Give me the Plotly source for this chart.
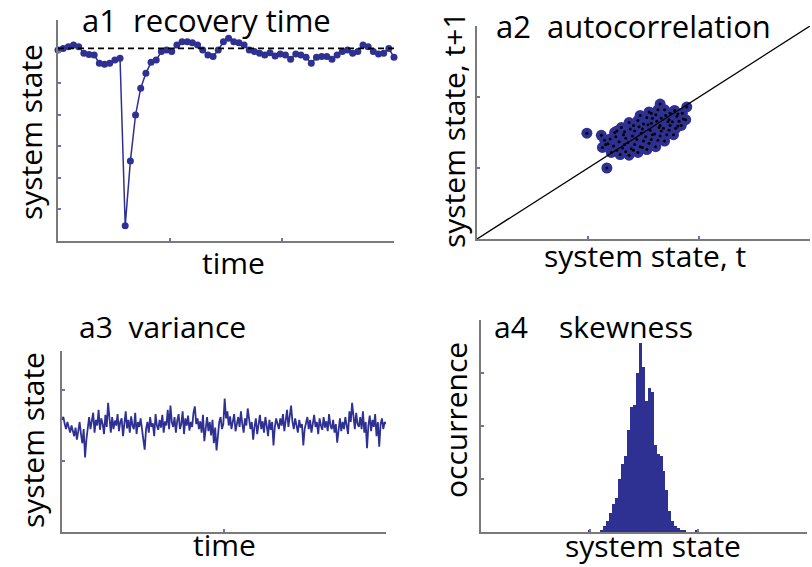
import plotly.graph_objects as go

W, H = 812, 567
BLUE = "#2E3192"
AXC = "#7a7a7a"
TICKC = "#6a6fc0"
FONT = "Open Sans"
FS = 30

# ---------------- data ----------------
# a1: recovery time series (system state vs time step)
recovery_state = [6.05, 6.10, 6.15, 6.21, 6.15, 5.95, 5.91, 5.89, 5.63, 5.60, 5.63, 5.73, 5.79,
                  0.48, 2.53, 3.99, 4.84, 5.31, 5.66, 5.73, 6.00, 6.05, 6.00, 6.21, 6.31, 6.31,
                  6.28, 6.21, 6.05, 5.89, 5.84, 6.05, 6.31, 6.42, 6.31, 6.28, 6.21, 6.05, 6.00,
                  5.95, 5.89, 5.96, 5.86, 5.92, 5.89, 5.76, 5.92, 5.89, 5.82, 5.63, 5.82, 5.84,
                  5.84, 5.76, 5.89, 6.00, 6.05, 5.95, 6.00, 6.21, 6.15, 6.00, 5.92, 5.95, 6.10, 5.82]
recovery_time = list(range(len(recovery_state)))
equilibrium = 6.1

# a2: lag-1 scatter (state at t, state at t+1)
ac_t = [1.13, 1.15, 1.12, 1.21, 1.23, 1.20, 1.24, 1.29, 1.31, 1.28, 1.32, 1.30,
        1.37, 1.39, 1.36, 1.40, 1.38, 1.37, 1.45, 1.47, 1.44, 1.48, 1.46, 1.45, 1.47,
        1.53, 1.55, 1.52, 1.56, 1.54, 1.53, 1.55, 1.61, 1.63, 1.60, 1.64, 1.62, 1.61, 1.63,
        1.69, 1.71, 1.68, 1.72, 1.70, 1.69, 1.77, 1.79, 1.76, 1.80, 1.78, 1.84, 1.86, 1.85,
        1.18, 1.26, 1.34, 1.42, 1.50, 1.58, 1.66, 1.74, 1.82, 1.42, 1.50, 1.58, 1.66, 1.34,
        1.26, 1.74, 1.16, 1.25, 1.33, 1.41, 1.49, 1.57, 1.65, 1.73, 1.81, 1.49, 1.57, 1.65,
        1.73, 1.41, 1.33, 1.57, 1.81, 1.88, 0.99, 1.17, 1.65, 1.89]
ac_t1 = [1.29, 1.39, 1.46, 1.22, 1.31, 1.41, 1.50, 1.19, 1.28, 1.37, 1.47, 1.57,
         1.18, 1.27, 1.36, 1.45, 1.55, 1.64, 1.22, 1.30, 1.40, 1.49, 1.58, 1.67, 1.74,
         1.26, 1.35, 1.44, 1.53, 1.61, 1.71, 1.79, 1.30, 1.39, 1.48, 1.57, 1.66, 1.75, 1.82,
         1.38, 1.47, 1.56, 1.65, 1.74, 1.82, 1.47, 1.56, 1.65, 1.73, 1.81, 1.60, 1.69, 1.77,
         1.34, 1.25, 1.42, 1.33, 1.62, 1.47, 1.52, 1.60, 1.66, 1.52, 1.38, 1.70, 1.70, 1.23,
         1.52, 1.77, 1.33, 1.44, 1.33, 1.25, 1.29, 1.40, 1.45, 1.53, 1.59, 1.55, 1.63, 1.60,
         1.68, 1.60, 1.51, 1.77, 1.76, 1.68, 1.49, 1.00, 1.90, 1.86]
identity_line = [0, 3]

# a3: noisy time series
variance_state = [
    1.58, 1.62, 1.52, 1.45, 1.55, 1.48, 1.40, 1.50, 1.43, 1.35, 1.47, 1.30, 1.42, 1.55, 1.38, 1.25, 1.45, 1.05, 1.30, 1.50,
    1.62, 1.45, 1.55, 1.68, 1.40, 1.58, 1.50, 1.72, 1.44, 1.60, 1.52, 1.38, 1.65, 1.48, 1.82, 1.55, 1.40, 1.62, 1.45, 1.57,
    1.50, 1.66, 1.42, 1.55, 1.60, 1.35, 1.52, 1.70, 1.46, 1.58, 1.40, 1.63, 1.50, 1.45, 1.68, 1.38, 1.55, 1.48, 1.60, 1.42,
    1.30, 1.16, 1.45, 1.55, 1.40, 1.62, 1.48, 1.53, 1.35, 1.66, 1.50, 1.44, 1.58, 1.47, 1.65, 1.40, 1.56, 1.50, 1.72, 1.45,
    1.78, 1.55, 1.48, 1.62, 1.40, 1.57, 1.66, 1.45, 1.52, 1.70, 1.38, 1.60, 1.50, 1.64, 1.43, 1.55, 1.48, 1.68, 1.77, 1.52,
    1.60, 1.45, 1.56, 1.40, 1.65, 1.28, 1.50, 1.62, 1.42, 1.55, 1.36, 1.58, 1.25, 1.47, 1.15, 1.40, 1.55, 1.62, 1.45, 1.52,
    1.88, 1.60, 1.70, 1.50, 1.63, 1.45, 1.58, 1.66, 1.42, 1.55, 1.62, 1.48, 1.70, 1.52, 1.40, 1.60, 1.50, 1.74, 1.58, 1.45,
    1.55, 1.30, 1.48, 1.60, 1.38, 1.52, 1.65, 1.45, 1.56, 1.40, 1.62, 1.50, 1.35, 1.58, 1.44, 1.55, 1.22, 1.48, 1.60, 1.52,
    1.45, 1.60, 1.50, 1.66, 1.42, 1.57, 1.72, 1.48, 1.62, 1.78, 1.55, 1.45, 1.60, 1.50, 1.40, 1.58, 1.47, 1.52, 1.22, 1.45,
    1.55, 1.62, 1.45, 1.58, 1.40, 1.52, 1.65, 1.48, 1.55, 1.38, 1.60, 1.50, 1.44, 1.62, 1.47, 1.56, 1.42, 1.66, 1.50, 1.45,
    1.58, 1.40, 1.52, 1.26, 1.48, 1.60, 1.42, 1.55, 1.45, 1.62, 1.50, 1.38, 1.70, 1.55, 1.82, 1.60, 1.45, 1.68, 1.52, 1.48,
    1.62, 1.45, 1.70, 1.40, 1.55, 1.18, 1.50, 1.64, 1.42, 1.58, 1.48, 1.66, 1.35, 1.55, 1.20, 1.52, 1.60, 1.45, 1.55, 1.52]
variance_time = list(range(len(variance_state)))

# a4: histogram of system state
hist_start = 0.994
hist_width = 0.0276
hist_counts = [1, 0, 0, 0, 1, 3, 5, 9, 13, 16, 25, 32, 36, 48, 59, 60, 75, 89, 78, 62, 68, 66,
               41, 37, 36, 29, 20, 10, 5, 3, 2, 1, 1, 0, 0, 0, 1]
hist_centers = [hist_start + i * hist_width for i in range(len(hist_counts))]

# ---------------- layout helpers ----------------
def xdom(a, b):
    return [a / W, b / W]

def ydom(top, bottom):
    return [1 - bottom / H, 1 - top / H]

def axis(dom, rng, tickvals, anchor):
    return dict(domain=dom, range=rng, tickvals=tickvals, showticklabels=False,
                ticks="inside", ticklen=3, tickwidth=1.5, tickcolor=TICKC,
                showline=True, linecolor=AXC, linewidth=2, showgrid=False,
                zeroline=False, anchor=anchor, fixedrange=True)

fig = go.Figure()

# a1
fig.add_trace(go.Scatter(x=recovery_time, y=recovery_state, mode="lines+markers",
                         line=dict(color=BLUE, width=1.5),
                         marker=dict(color=BLUE, size=7), xaxis="x", yaxis="y",
                         cliponaxis=False, showlegend=False))
fig.add_shape(type="line", xref="x", yref="y", x0=recovery_time[0], x1=recovery_time[-1],
              y0=equilibrium, y1=equilibrium, line=dict(color="black", width=1.6, dash="6px,4px"))

# a2
fig.add_trace(go.Scatter(x=ac_t, y=ac_t1, mode="markers",
                         marker=dict(color=BLUE, size=11, line=dict(width=0)),
                         xaxis="x2", yaxis="y2", showlegend=False))
fig.add_trace(go.Scatter(x=ac_t, y=ac_t1, mode="markers",
                         marker=dict(color="black", size=3),
                         xaxis="x2", yaxis="y2", showlegend=False))
fig.add_trace(go.Scatter(x=identity_line, y=identity_line, mode="lines",
                         line=dict(color="black", width=1.3), xaxis="x2", yaxis="y2",
                         showlegend=False))

# a3
fig.add_trace(go.Scatter(x=variance_time, y=variance_state, mode="lines",
                         line=dict(color=BLUE, width=1.8), xaxis="x3", yaxis="y3",
                         showlegend=False))

# a4
fig.add_trace(go.Bar(x=hist_centers, y=hist_counts, width=hist_width,
                     marker=dict(color=BLUE, line=dict(width=0)),
                     xaxis="x4", yaxis="y4", showlegend=False))

n1 = recovery_time[-1]
n3 = variance_time[-1]
fig.update_layout(
    width=W, height=H, margin=dict(l=0, r=0, t=0, b=0),
    paper_bgcolor="white", plot_bgcolor="white",
    xaxis=axis(xdom(58, 394), [0, n1], [0, n1 / 3, 2 * n1 / 3, n1], "y"),
    yaxis=axis(ydom(20, 241), [0, 7], [0, 1, 2, 3, 4, 5, 6, 7], "x"),
    xaxis2=axis(xdom(477, 810), [0, 3], [0, 1, 2, 3], "y2"),
    yaxis2=axis(ydom(26, 239), [0, 3], [0, 1, 2, 3], "x2"),
    xaxis3=axis(xdom(62, 386), [0, n3], [0, n3 / 2, n3], "y3"),
    yaxis3=axis(ydom(351, 532), [0, 2.55], [0, 1, 2], "x3"),
    xaxis4=axis(xdom(481, 807), [0, 3], [0, 1, 2, 3], "y4"),
    yaxis4=axis(ydom(320, 532), [0, 100], [0, 25, 50, 75, 100], "x4"),
    bargap=0,
)

def label(text, px, py, angle=0, anchor="center", yanchor="middle", size=FS):
    fig.add_annotation(text=text, x=px / W, y=1 - py / H, xref="paper", yref="paper",
                       showarrow=False, textangle=angle, xanchor=anchor, yanchor=yanchor,
                       borderpad=0,
                       font=dict(family=FONT, size=size, color="black"))

label("a1  recovery time", 81, 20, anchor="left", size=31)
label("a2  autocorrelation", 495, 26, anchor="left", size=31)
label("a3  variance", 78, 326, anchor="left")
label("a4    skewness", 493, 326, anchor="left")

label("system state", 30, 132, angle=-90)
label("time", 234, 262)
label("system state, t+1", 453, 130, angle=-90)
label("system state, t", 645, 255)
label("system state", 32, 440, angle=-90)
label("time", 224, 566, yanchor="bottom")
label("occurrence", 455, 420, angle=-90)
label("system state", 653, 567, yanchor="bottom")

fig.write_html("out.html")
